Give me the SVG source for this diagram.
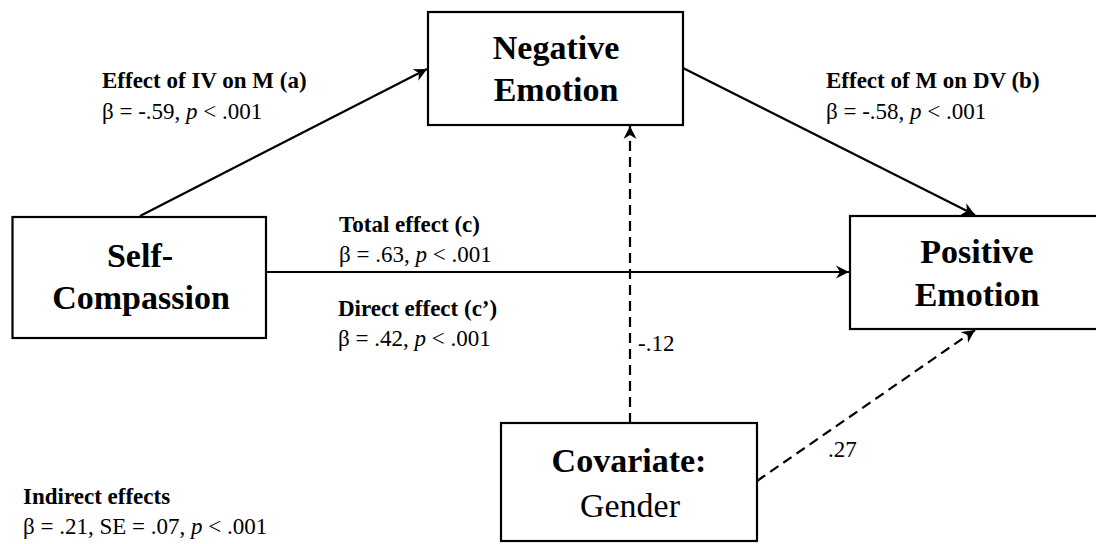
<svg xmlns="http://www.w3.org/2000/svg" width="1096" height="544" viewBox="0 0 1096 544">
<style>
.box{fill:#fff;stroke:#000;stroke-width:2.2}
.big{font-family:"Liberation Serif","Times New Roman",serif;font-size:34px;font-weight:bold;text-anchor:middle;fill:#000}
.bigr{font-family:"Liberation Serif","Times New Roman",serif;font-size:34px;text-anchor:middle;fill:#000}
.sb{font-family:"Liberation Serif","Times New Roman",serif;font-size:23px;font-weight:bold;fill:#000}
.s{font-family:"Liberation Serif","Times New Roman",serif;font-size:23px;fill:#000}
.ln{fill:none;stroke:#000;stroke-width:2.2}
.dash{stroke-dasharray:10 6}
</style>
<defs>
<marker id="ah" markerUnits="userSpaceOnUse" markerWidth="14" markerHeight="14" refX="13" refY="6.5" orient="auto" viewBox="0 0 14 13">
<path d="M0,0 L13,6.5 L0,13 L4,6.5 z" fill="#000"/>
</marker>
</defs>
<rect width="1096" height="544" fill="#fff"/>
<g id="connectors">
<line class="ln" x1="140" y1="216" x2="427" y2="69" marker-end="url(#ah)"/>
<line class="ln" x1="683" y1="68" x2="975" y2="215" marker-end="url(#ah)"/>
<line class="ln" x1="266" y1="272" x2="849" y2="272" marker-end="url(#ah)"/>
<line class="ln dash" x1="630" y1="423" x2="630" y2="126" marker-end="url(#ah)"/>
<line class="ln dash" x1="757" y1="481" x2="975" y2="330" marker-end="url(#ah)"/>
</g>
<g id="negative-emotion">
<rect class="box" x="428" y="12" width="255" height="113"/>
<text class="big" x="556" y="59">Negative</text>
<text class="big" x="556" y="101">Emotion</text>
</g>
<g id="self-compassion">
<rect class="box" x="12.5" y="217" width="253.5" height="121"/>
<text class="big" x="140" y="267">Self-</text>
<text class="big" x="141" y="309">Compassion</text>
</g>
<g id="positive-emotion">
<rect class="box" x="850" y="216" width="256" height="113"/>
<text class="big" x="977" y="263">Positive</text>
<text class="big" x="977" y="306">Emotion</text>
</g>
<g id="covariate">
<rect class="box" x="501" y="423" width="256" height="118"/>
<text class="big" x="629" y="472">Covariate:</text>
<text class="bigr" x="630" y="517">Gender</text>
</g>
<g id="labels">
<text class="sb" x="102" y="88">Effect of IV on M (a)</text>
<text class="s" x="102" y="119">β = -.59, <tspan font-style="italic">p</tspan> &lt; .001</text>
<text class="sb" x="826" y="88">Effect of M on DV (b)</text>
<text class="s" x="826" y="119">β = -.58, <tspan font-style="italic">p</tspan> &lt; .001</text>
<text class="sb" x="339" y="232">Total effect (c)</text>
<text class="s" x="339" y="262">β = .63, <tspan font-style="italic">p</tspan> &lt; .001</text>
<text class="sb" x="338" y="316">Direct effect (c’)</text>
<text class="s" x="338" y="346">β = .42, <tspan font-style="italic">p</tspan> &lt; .001</text>
<text class="s" x="638" y="351">-.12</text>
<text class="s" x="828" y="457">.27</text>
<text class="sb" x="23" y="504">Indirect effects</text>
<text class="s" x="23" y="534">β = .21, SE = .07, <tspan font-style="italic">p</tspan> &lt; .001</text>
</g>
</svg>
